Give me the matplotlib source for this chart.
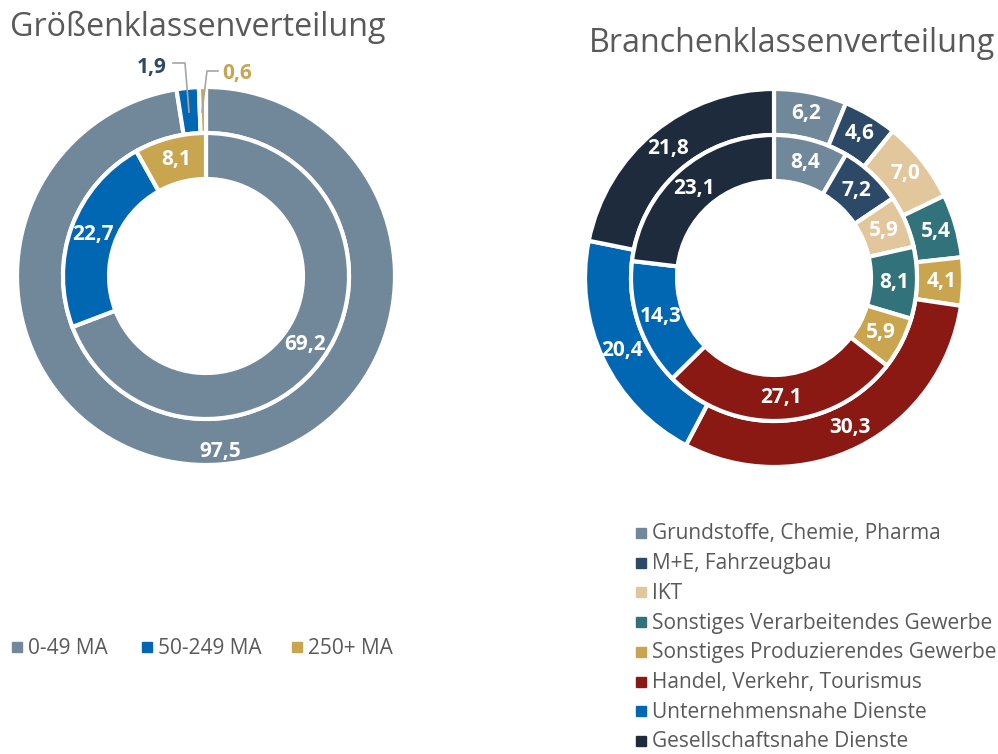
import matplotlib.pyplot as plt
import numpy as np

plt.rcParams['font.family'] = ['Open Sans', 'DejaVu Sans']

# Größenklassen
size_cats = ['0-49 MA', '50-249 MA', '250+ MA']
size_outer = [97.5, 1.9, 0.6]
size_inner = [69.2, 22.7, 8.1]
size_colors = ['#71889B', '#0267B3', '#C9A54F']

# Branchenklassen
branch_cats = ['Grundstoffe, Chemie, Pharma', 'M+E, Fahrzeugbau', 'IKT',
               'Sonstiges Verarbeitendes Gewerbe', 'Sonstiges Produzierendes Gewerbe',
               'Handel, Verkehr, Tourismus', 'Unternehmensnahe Dienste',
               'Gesellschaftsnahe Dienste']
branch_outer = [6.2, 4.6, 7.0, 5.4, 4.1, 30.3, 20.4, 21.8]
branch_inner = [8.4, 7.2, 5.9, 8.1, 5.9, 27.1, 14.3, 23.1]
branch_colors = ['#71889B', '#2C4A67', '#E1C79B', '#32737B', '#C9A54F',
                 '#8A1913', '#0267B3', '#1E2B3C']

W, H = 998, 754
fig = plt.figure(figsize=(W / 100, H / 100), dpi=100)
ax = fig.add_axes([0, 0, 1, 1])

R_OUT, R_MID, R_HOLE = 189, 143, 97
grey = '#595959'
LBL = 15


def fmt(v):
    return f'{v:.1f}'.replace('.', ',')


def donut(cx, cy, outer, inner, colors, r_lab_out, r_lab_in, skip_outer=()):
    wp = dict(edgecolor='white', linewidth=3)
    w1, _ = ax.pie(outer, colors=colors, radius=R_OUT, center=(cx, cy),
                   startangle=90, counterclock=False,
                   wedgeprops=dict(width=R_OUT - R_MID, **wp), frame=True)
    w2, _ = ax.pie(inner, colors=colors, radius=R_MID, center=(cx, cy),
                   startangle=90, counterclock=False,
                   wedgeprops=dict(width=R_MID - R_HOLE, **wp), frame=True)
    for wedges, vals, r in ((w1, outer, r_lab_out), (w2, inner, r_lab_in)):
        for i, (w, v) in enumerate(zip(wedges, vals)):
            if wedges is w1 and i in skip_outer:
                continue
            a = np.deg2rad((w.theta1 + w.theta2) / 2)
            ax.text(cx + r * np.cos(a), cy + r * np.sin(a), fmt(v),
                    ha='center', va='center', color='white',
                    fontsize=LBL, fontweight='bold')


cxL, cyL = 206, H - 276
donut(cxL, cyL, size_outer, size_inner, size_colors, 176, 120, skip_outer=(1, 2))

# small outer segments get labels with leader lines
ax.plot([173, 185, 189], [H - 63, H - 63, H - 112], color='#A6A6A6', lw=1.2)
ax.text(152, H - 67, fmt(size_outer[1]), ha='center', va='center',
        color='#2C4A67', fontsize=LBL, fontweight='bold')
ax.plot([218, 207, 202], [H - 71, H - 71, H - 112], color='#A6A6A6', lw=1.2)
ax.text(237, H - 73, fmt(size_outer[2]), ha='center', va='center',
        color='#C9A54F', fontsize=LBL, fontweight='bold')

cxR, cyR = 774, H - 278
donut(cxR, cyR, branch_outer, branch_inner, branch_colors, 168, 120)

ax.set_xlim(0, W)
ax.set_ylim(0, H)
ax.set_aspect('equal')
ax.axis('off')

ax.text(10, H - 27, 'Größenklassenverteilung', ha='left', va='center',
        color=grey, fontsize=23.2)
ax.text(589, H - 44, 'Branchenklassenverteilung', ha='left', va='center',
        color=grey, fontsize=23.2)

# legends
leg_x = [17, 147, 297]
for x, c, lab in zip(leg_x, size_colors, size_cats):
    ax.plot(x, H - 647, marker='s', ms=7, color=c, ls='none')
    ax.text(x + 11, H - 648, lab, ha='left', va='center', color=grey, fontsize=15)

for i, (c, lab) in enumerate(zip(branch_colors, branch_cats)):
    y = H - (533 + i * 29.7)
    ax.plot(641, y, marker='s', ms=7, color=c, ls='none')
    ax.text(652, y - 1, lab, ha='left', va='center', color=grey, fontsize=15)

fig.savefig('out.png', dpi=100)
